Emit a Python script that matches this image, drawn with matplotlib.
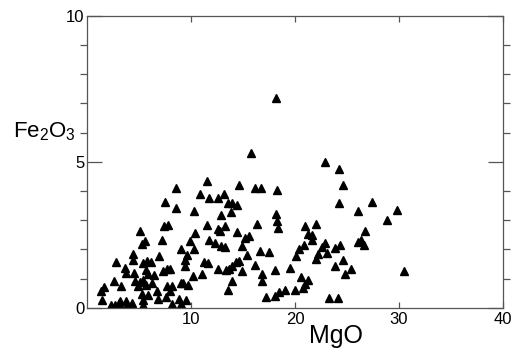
import matplotlib
matplotlib.use("Agg")
import matplotlib.pyplot as plt
from matplotlib.ticker import MultipleLocator

plt.rcParams['font.family'] = ['Liberation Sans', 'DejaVu Sans']
plt.rcParams['mathtext.fontset'] = 'custom'
plt.rcParams['mathtext.rm'] = 'Liberation Sans'
plt.rcParams['mathtext.it'] = 'Liberation Sans'

# MgO vs Fe2O3 (wt%)
mgo = [18.15, 15.75, 22.84, 24.19, 24.66, 24.19, 27.41, 26.04, 29.78, 28.82,
       26.77, 26.04, 26.36, 26.61, 30.51, 25.43, 24.76, 24.66, 23.83, 24.35,
       23.83, 23.07, 22.84, 22.56, 22.04, 21.63, 21.25, 21.66, 22.2, 21.98,
       20.93, 20.83, 20.38, 20.06, 20.61, 21.25, 21.0, 20.77, 20.03, 23.26,
       24.12, 19.49, 19.04, 18.47, 18.11, 17.25, 18.05, 17.48, 16.61, 16.84,
       16.87, 16.13, 16.36, 18.27, 16.77, 16.13, 14.6, 18.21, 18.27, 18.37,
       15.59, 15.18, 14.47, 14.92, 15.34, 14.63, 14.95, 14.28, 13.96, 13.64,
       13.96, 13.58, 13.32, 12.56, 11.5, 10.86, 11.76, 12.56, 13.19, 13.51,
       13.9, 14.47, 13.83, 12.88, 10.32, 11.5, 12.56, 12.78, 13.26, 10.38,
       11.76, 12.3, 12.88, 13.26, 9.90, 10.32, 9.04, 9.58, 9.42, 9.42,
       11.28, 11.66, 11.09, 10.22, 9.74, 9.04, 9.27, 8.56, 7.51, 8.56,
       7.76, 7.41, 7.25, 6.93, 7.35, 7.73, 7.99, 7.67, 8.15, 7.99,
       7.6, 8.21, 8.85, 9.01, 9.52, 5.05, 5.27, 5.59, 4.38, 4.47,
       5.75, 6.17, 5.34, 3.67, 3.74, 2.78, 4.54, 5.69, 5.85, 6.49,
       4.63, 5.11, 5.43, 4.86, 5.69, 6.23, 2.56, 3.26, 1.60, 1.34,
       1.44, 5.27, 5.37, 5.85, 6.77, 6.87, 2.33, 2.65, 3.04, 3.19,
       3.74, 3.83, 4.31, 5.43]
fe2o3 = [7.18, 5.30, 4.99, 4.76, 4.19, 3.59, 3.64, 3.33, 3.36, 3.02,
         2.62, 2.26, 2.33, 2.14, 1.25, 1.33, 1.17, 1.65, 1.42, 2.16,
         2.05, 1.88, 2.22, 2.08, 2.87, 2.51, 2.53, 2.33, 1.86, 1.69,
         2.82, 2.14, 2.02, 1.77, 1.05, 0.97, 0.82, 0.68, 0.60, 0.34,
         0.34, 1.37, 0.63, 0.54, 0.40, 0.36, 1.31, 1.91, 1.94, 1.17,
         0.93, 1.46, 2.88, 4.02, 4.10, 4.10, 4.19, 3.22, 2.98, 2.73,
         2.47, 2.41, 2.59, 2.11, 1.80, 1.59, 1.28, 1.57, 1.42, 1.34,
         0.91, 0.63, 1.31, 1.33, 4.33, 3.90, 3.76, 3.76, 3.90, 3.59,
         3.59, 3.53, 3.28, 3.19, 3.30, 2.85, 2.70, 2.64, 2.82, 2.56,
         2.33, 2.22, 2.13, 2.07, 2.28, 2.02, 2.02, 1.82, 1.65, 1.42,
         1.56, 1.54, 1.17, 1.08, 0.77, 0.85, 0.85, 4.10, 3.64, 3.42,
         2.85, 2.79, 2.33, 1.77, 1.28, 1.33, 1.33, 0.74, 0.74, 0.57,
         0.36, 0.15, 0.31, 0.15, 0.26, 2.64, 2.19, 2.28, 1.86, 1.65,
         1.62, 1.57, 1.54, 1.37, 1.20, 1.57, 1.20, 1.31, 1.16, 1.14,
         0.93, 0.88, 0.97, 0.76, 0.80, 0.85, 0.91, 0.74, 0.72, 0.59,
         0.26, 0.46, 0.28, 0.43, 0.59, 0.31, 0.11, 0.11, 0.17, 0.25,
         0.23, 0.11, 0.17, 0.11]

fig = plt.figure(figsize=(5.24, 3.56), dpi=100)
ax = fig.add_axes([0.166, 0.135, 0.794, 0.821])

ax.plot(mgo, fe2o3, linestyle="none", marker="^", ms=6, color="black")

ax.set_xlim(0, 40)
ax.set_ylim(0, 10)
ax.set_xticks([10, 20, 30, 40])
ax.set_yticks([0, 5, 10])
ax.yaxis.set_minor_locator(MultipleLocator(1))

for s in ax.spines.values():
    s.set_color("#555555")
    s.set_linewidth(0.9)

ax.tick_params(axis="both", direction="in", colors="#555555", labelcolor="black",
               labelsize=12, width=0.9)
ax.tick_params(axis="x", which="major", top=True, length=4.5, pad=3)
ax.tick_params(axis="y", which="major", right=True, length=10.5, pad=2)
ax.tick_params(axis="y", which="minor", left=True, right=True, length=5, width=0.9,
               colors="#555555")

# axis titles placed as in the original figure
fig.text(0.641, 0.056, "MgO", fontsize=18, ha="center", va="center")
fig.text(0.024, 0.615, r"Fe$_2$O$_3$", fontsize=16, ha="left", va="baseline")

fig.savefig("out.png", dpi=100)
